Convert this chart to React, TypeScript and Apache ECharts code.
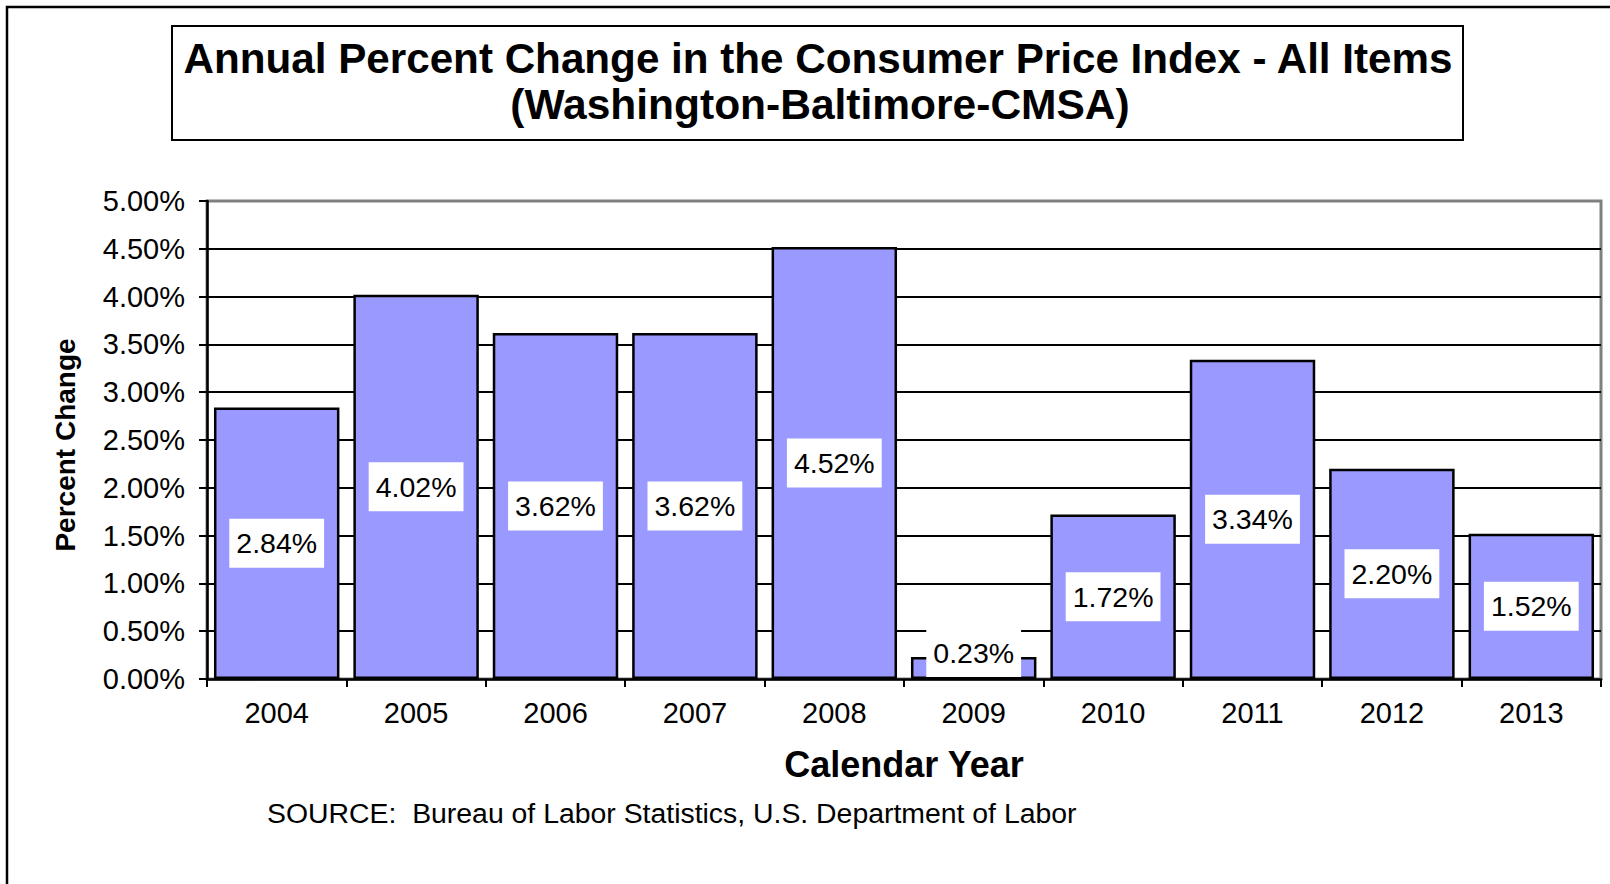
import React, { useEffect, useRef } from "react";
import * as echarts from "echarts";

const years = ["2004", "2005", "2006", "2007", "2008", "2009", "2010", "2011", "2012", "2013"];
const changes = [2.84, 4.02, 3.62, 3.62, 4.52, 0.23, 1.72, 3.34, 2.2, 1.52];
const yMin = 0;
const yMax = 5;
const yStep = 0.5;
const titleLines = [
  "Annual Percent Change in the Consumer Price Index - All Items",
  "(Washington-Baltimore-CMSA)",
];
const xName = "Calendar Year";
const yName = "Percent Change";
const sourceNote = "SOURCE:  Bureau of Labor Statistics, U.S. Department of Labor";

const FONT = "'Liberation Sans', Arial, Helvetica, sans-serif";

export default function App() {
  const ref = useRef<HTMLDivElement>(null);

  useEffect(() => {
    if (!ref.current) return;
    const chart = echarts.init(ref.current, undefined, { renderer: "svg" });
    const pct = (v: number) => v.toFixed(2) + "%";

    chart.setOption({
      animation: false,
      backgroundColor: "#ffffff",
      textStyle: { fontFamily: FONT },
      grid: {
        left: 207,
        top: 201,
        right: 9,
        bottom: 205,
        show: true,
        backgroundColor: "#ffffff",
        borderColor: "#808080",
        borderWidth: 3,
      },
      xAxis: {
        type: "category",
        data: years,
        name: xName,
        nameLocation: "middle",
        nameGap: 67,
        nameTextStyle: { fontFamily: FONT, fontSize: 36, fontWeight: "bold", color: "#000" },
        axisLine: { show: true, lineStyle: { color: "#000", width: 2.5 } },
        axisTick: { show: true, length: 8, lineStyle: { color: "#000", width: 2 } },
        axisLabel: { color: "#000", fontFamily: FONT, fontSize: 29, margin: 19 },
        splitLine: { show: false },
      },
      yAxis: {
        type: "value",
        min: yMin,
        max: yMax,
        interval: yStep,
        name: yName,
        nameLocation: "middle",
        nameGap: 128,
        nameRotate: 90,
        nameTextStyle: {
          fontFamily: FONT,
          fontSize: 28,
          fontWeight: "bold",
          color: "#000",
          padding: [0, 10, 0, 0],
        },
        axisLine: { show: true, lineStyle: { color: "#000", width: 2.5 } },
        axisTick: { show: true, length: 8, lineStyle: { color: "#000", width: 2 } },
        axisLabel: {
          color: "#000",
          fontFamily: FONT,
          fontSize: 29,
          margin: 22,
          formatter: (v: number) => pct(v),
        },
        splitLine: {
          show: true,
          showMinLine: false,
          showMaxLine: false,
          lineStyle: { color: "#000", width: 2 },
        },
      },
      series: [
        {
          type: "bar",
          barCategoryGap: "10%",
          itemStyle: { color: "#9999ff", borderColor: "#000", borderWidth: 2.5 },
          label: {
            show: true,
            position: "inside",
            formatter: (p: any) => pct(p.value),
            color: "#000",
            fontFamily: FONT,
            fontSize: 28.5,
            backgroundColor: "#ffffff",
            padding: [10, 7],
          },
          data: changes.map((v) =>
            v < 0.5
              ? { value: v, label: { position: "insideBottom", distance: 2 } }
              : { value: v }
          ),
        },
      ],
      graphic: [
        {
          type: "rect",
          silent: true,
          z: -10,
          shape: { x: 7, y: 7, width: 1640, height: 920 },
          style: { fill: "none", stroke: "#000", lineWidth: 2.5 },
        },
        {
          type: "rect",
          silent: true,
          shape: { x: 172, y: 26, width: 1291, height: 114 },
          style: { fill: "#fff", stroke: "#000", lineWidth: 2 },
        },
        {
          type: "text",
          silent: true,
          x: 818,
          y: 58,
          style: {
            text: titleLines[0],
            fontFamily: FONT,
            fontSize: 42.2,
            fontWeight: "bold",
            fill: "#000",
            align: "center",
            verticalAlign: "middle",
          },
        },
        {
          type: "text",
          silent: true,
          x: 820,
          y: 104,
          style: {
            text: titleLines[1],
            fontFamily: FONT,
            fontSize: 42.5,
            fontWeight: "bold",
            fill: "#000",
            align: "center",
            verticalAlign: "middle",
          },
        },
        {
          type: "text",
          silent: true,
          x: 267,
          y: 813,
          style: {
            text: sourceNote,
            fontFamily: FONT,
            fontSize: 28.4,
            fill: "#000",
            align: "left",
            verticalAlign: "middle",
          },
        },
      ],
    });

    return () => chart.dispose();
  }, []);

  return (
    <div
      ref={ref}
      style={{ position: "absolute", left: 0, top: 0, width: 1610, height: 884 }}
    />
  );
}
